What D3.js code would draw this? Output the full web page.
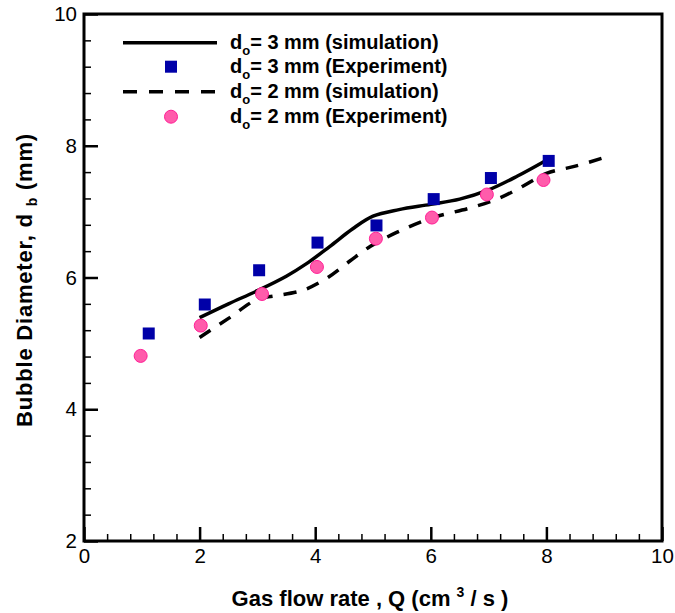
<!DOCTYPE html>
<html><head><meta charset="utf-8">
<script src="https://cdn.jsdelivr.net/npm/d3@7"></script>
<style>
html,body{margin:0;padding:0;background:#fff;}
svg{display:block;font-family:"Liberation Sans",Arial,Helvetica,sans-serif;}
</style></head>
<body><svg id="c" width="675" height="613"></svg>
<script>
// ---- data ----
const exp3X = [1.12, 2.09, 3.03, 4.04, 5.06, 6.05, 7.04, 8.04];
const exp3Y = [5.15, 5.59, 6.11, 6.53, 6.79, 7.19, 7.51, 7.77];
const exp2X = [0.98, 2.02, 3.08, 4.03, 5.05, 6.02, 6.97, 7.95];
const exp2Y = [4.81, 5.27, 5.75, 6.16, 6.59, 6.91, 7.26, 7.48];
const sim3X = [2.0, 2.5, 3.0, 3.5, 3.85, 4.25, 4.65, 5.0, 5.45, 6.0, 6.5, 7.0, 7.5, 8.0];
const sim3Y = [5.39, 5.60, 5.80, 6.02, 6.21, 6.47, 6.74, 6.93, 7.03, 7.11, 7.19, 7.33, 7.54, 7.78];
const sim2X = [2.0, 2.5, 3.0, 3.3, 3.8, 4.2, 4.6, 4.95, 5.4, 6.0, 6.7, 7.2, 7.6, 8.0, 8.5, 9.0];
const sim2Y = [5.09, 5.38, 5.67, 5.72, 5.81, 5.99, 6.25, 6.47, 6.68, 6.90, 7.06, 7.21, 7.39, 7.58, 7.69, 7.82];
const xTicks = [0, 2, 4, 6, 8, 10];
const yTicks = [2, 4, 6, 8, 10];
const legendLabels = [
  {sub:"o", rest:"= 3 mm (simulation)"},
  {sub:"o", rest:"= 3 mm (Experiment)"},
  {sub:"o", rest:"= 2 mm (simulation)"},
  {sub:"o", rest:"= 2 mm (Experiment)"}
];

const svg = d3.select("#c");
const L = 84, R = 662, T = 14, B = 541;
const x = d3.scaleLinear().domain([0, 10]).range([L, R]);
const y = d3.scaleLinear().domain([2, 10]).range([B, T]);

const minorX = d3.range(0, 10.001, 0.4).filter(v => Math.abs(v/2 - Math.round(v/2)) > 1e-6);
const minorY = d3.range(2, 10.001, 0.4).filter(v => Math.abs(v/2 - Math.round(v/2)) > 1e-6);

// minor ticks
svg.append("g").attr("transform", `translate(0,${B})`)
  .call(d3.axisBottom(x).tickValues(minorX).tickSize(-7).tickFormat(""))
  .call(g => { g.select(".domain").remove(); g.selectAll("line").attr("stroke","#000").attr("stroke-width",1.5); });
svg.append("g").attr("transform", `translate(${L},0)`)
  .call(d3.axisLeft(y).tickValues(minorY).tickSize(-7).tickFormat(""))
  .call(g => { g.select(".domain").remove(); g.selectAll("line").attr("stroke","#000").attr("stroke-width",1.5); });

// major ticks
svg.append("g").attr("transform", `translate(0,${B})`)
  .call(d3.axisBottom(x).tickValues(xTicks).tickSize(-14).tickPadding(7).tickFormat(d3.format("d")))
  .call(g => {
    g.select(".domain").remove();
    g.selectAll("line").attr("stroke","#000").attr("stroke-width",2.5);
    g.selectAll("text").attr("font-size",20.5).attr("fill","#000").attr("font-family","Liberation Sans, Arial, sans-serif");
  });
svg.append("g").attr("transform", `translate(${L},0)`)
  .call(d3.axisLeft(y).tickValues(yTicks).tickSize(-14).tickPadding(7).tickFormat(d3.format("d")))
  .call(g => {
    g.select(".domain").remove();
    g.selectAll("line").attr("stroke","#000").attr("stroke-width",2.5);
    g.selectAll("text").attr("font-size",20.5).attr("fill","#000").attr("font-family","Liberation Sans, Arial, sans-serif");
  });

// frame
svg.append("rect").attr("x", L).attr("y", T).attr("width", R-L).attr("height", B-T)
  .attr("fill","none").attr("stroke","#000").attr("stroke-width",3);

// lines
const line = d3.line().x(d => x(d[0])).y(d => y(d[1])).curve(d3.curveCatmullRom.alpha(0.5));
svg.append("path").datum(d3.zip(sim3X, sim3Y)).attr("d", line)
  .attr("fill","none").attr("stroke","#000").attr("stroke-width",3.5);
svg.append("path").datum(d3.zip(sim2X, sim2Y)).attr("d", line)
  .attr("fill","none").attr("stroke","#000").attr("stroke-width",3.5)
  .attr("stroke-dasharray","13,11");

// markers
const sq = 12;
svg.append("g").selectAll("rect").data(d3.zip(exp3X, exp3Y)).join("rect")
  .attr("x", d => x(d[0]) - sq/2).attr("y", d => y(d[1]) - sq/2)
  .attr("width", sq).attr("height", sq).attr("fill","#0000a8");
svg.append("g").selectAll("circle").data(d3.zip(exp2X, exp2Y)).join("circle")
  .attr("cx", d => x(d[0])).attr("cy", d => y(d[1])).attr("r", 6.5)
  .attr("fill","#ff5cab").attr("stroke","#ff1f96").attr("stroke-width",1);

// legend
const lg = svg.append("g");
const rows = [42.7, 66.7, 91.7, 116.7];
lg.append("line").attr("x1",123).attr("x2",217).attr("y1",rows[0]).attr("y2",rows[0])
  .attr("stroke","#000").attr("stroke-width",3.5);
lg.append("rect").attr("x",171-sq/2).attr("y",rows[1]-sq/2).attr("width",sq).attr("height",sq).attr("fill","#0000a8");
lg.append("line").attr("x1",123).attr("x2",217).attr("y1",rows[2]).attr("y2",rows[2])
  .attr("stroke","#000").attr("stroke-width",3.5).attr("stroke-dasharray","14,12");
lg.append("circle").attr("cx",171).attr("cy",rows[3]).attr("r",6.5)
  .attr("fill","#ff5cab").attr("stroke","#ff1f96").attr("stroke-width",1);
legendLabels.forEach((lab, i) => {
  const t = lg.append("text").attr("x", 230).attr("y", rows[i] + 6.5)
    .attr("font-size", 20).attr("font-weight","bold").attr("fill","#000");
  t.append("tspan").text("d");
  t.append("tspan").attr("font-size", 13).attr("dy", 6).text(lab.sub);
  t.append("tspan").attr("dy", -6).text(lab.rest);
});

// axis titles
const xt = svg.append("text").attr("x", 370).attr("y", 606).attr("text-anchor","middle")
  .attr("font-size", 22).attr("font-weight","bold").attr("fill","#000");
xt.append("tspan").text("Gas flow rate , Q (cm ");
xt.append("tspan").attr("font-size", 14).attr("dy", -9).text("3");
xt.append("tspan").attr("dy", 9).text(" / s )");

const yt = svg.append("text").attr("transform","translate(32,280) rotate(-90)").attr("text-anchor","middle")
  .attr("font-size", 22).attr("font-weight","bold").attr("fill","#000").attr("letter-spacing", 0.8);
yt.append("tspan").text("Bubble Diameter, d ");
yt.append("tspan").attr("font-size", 14).attr("dy", 5).text("b");
yt.append("tspan").attr("dy", -5).text(" (mm)");
</script></body></html>
